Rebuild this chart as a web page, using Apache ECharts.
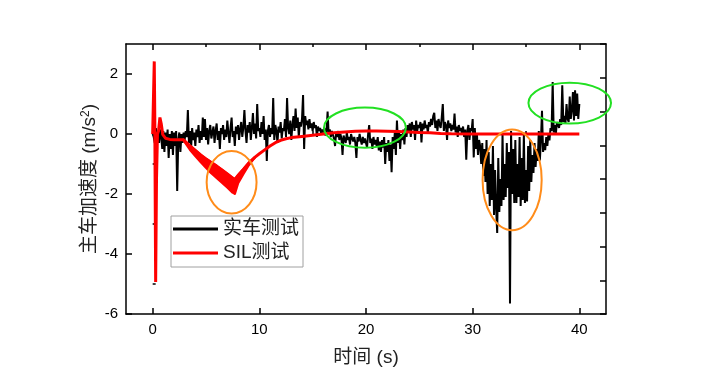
<!DOCTYPE html>
<html>
<head>
<meta charset="utf-8">
<script src="https://cdn.jsdelivr.net/npm/echarts@6/dist/echarts.min.js"></script>
<style>
html, body { margin: 0; background: #fff; }
#main { width: 704px; height: 377px; }
</style>
</head>
<body>
<div id="main"></div>
<script>
// 实车测试: one value every 0.1 s from t = 0 to 40 s
var carStart = 0
var carStep = 0.1
var carValues = [
	0, -0.1, -0.3, 0.2, -0.2, 0.1, -0.3, 0.15, -0.1, -0.5,
	0.1, -0.6, 0.05, -0.4, 0.15, -0.8, 0.0, -0.5, 0.1, -0.7,
	0.05, -0.4, 0.1, -1.9, -0.2, 0.05, -0.6, 0.0, -0.3, 0.05,
	-0.2, 0.1, -0.1, 0.8, -0.3, 0.1, -0.5, 0.2, -0.2, 0.05,
	-0.4, 0.15, -0.1, 0.3, -0.3, 0.1, -0.2, 0.55, -0.1, 0.5,
	-0.2, 0.2, -0.35, 0.1, 0.3, -0.15, 0.05, 0.25, -0.3, 0.1,
	0.35, -0.2, 0.1, -0.5, 0.2, 0.0, 0.3, -0.2, 0.15, -0.1,
	0.45, 0.05, -0.3, 0.2, 0.55, -0.1, 0.1, -0.4, 0.25, 0.0,
	0.3, -0.2, 0.15, 0.4, -0.1, 0.2, 0.8, 0.1, -0.3, 0.3,
	0.05, 0.4, -0.2, 0.2, 0.7, 0.0, 0.35, -0.15, 1.0, 0.1,
	0.2, -0.1, 0.4, 0.0, 0.6, -0.2, 0.15, -0.9, 0.1, 0.3,
	-0.1, 0.2, 0.0, 1.2, -0.2, 0.3, 0.1, -0.3, 0.25, 0.05,
	0.4, -0.15, 0.2, 0.1, 0.5, -0.1, 1.2, 0.2, 0.0, 0.45,
	-0.2, 0.3, 0.6, 0.1, 0.85, 0.2, 0.55, -0.1, 0.4, 0.25,
	0.5, 1.3, -0.5, 0.6, 0.3, 0.45, 0.15, 0.5, 0.2, 0.35,
	0.1, 0.4, 0.2, 0.3, -0.1, 0.25, 0.1, 0.2, 0.0, 0.15,
	0.05, 0.2, -0.05, 0.1, 0.75, 0.0, 0.15, -0.1, 0.1, 0.05,
	-0.15, -0.4, 0.05, -0.1, 0.1, -0.2, 0.0, -0.15, -0.7, -0.05,
	-0.1, -0.3, 0.05, -0.2, -0.1, -0.35, 0.0, -0.15, -0.25, -0.1,
	-0.3, -0.8, -0.1, -0.25, 0.0, -0.2, -0.35, -0.1, -0.3, -0.15,
	-0.2, -0.45, 0.0, 0.3, -0.3, -0.15, -0.5, -0.1, -0.35, -0.2,
	-0.4, -0.1, -0.55, -0.25, -0.6, -0.2, -0.45, -0.1, -1.0, -0.3,
	-0.6, -0.2, -0.9, -0.35, -1.27, -0.1, -0.5, 0.05, -0.7, 0.45,
	-0.3, 0.1, -0.5, 0.0, -0.2, 0.15, -0.35, 0.2, -0.1, 0.3,
	0.1, 0.35, -0.1, 0.4, 0.15, 0.3, -0.2, 0.45, 0.1, 0.3,
	0.2, 0.4, -0.28, 0.35, 0.15, 0.45, 0.2, 0.3, 0.05, 0.4,
	0.25, 0.5, 0.3, 0.6, 0.71, 0.2, 0.45, 0.1, 0.5, 0.3,
	0.2, 0.55, 1.0, 0.1, 0.4, 0.3, -0.2, 0.45, 0.2, 0.35,
	0.1, 0.3, 0.15, 0.68, 0.05, 0.25, -0.1, 0.3, 0.1, 0.2,
	0.0, 0.25, -0.1, 0.15, -0.86, 0.1, 0.3, -0.2, 0.2, 0.1,
	0.5, -0.78, 0.2, -0.5, 0.0, -0.7, -0.2, -0.4, -1.0, -0.3,
	-1.4, -0.5, -1.6, -0.2, -2.0, -0.6, -2.4, -1.0, -2.2, -0.4,
	-2.7, -1.2, -2.5, -3.3, -0.8, -2.6, -1.5, -2.4, 0.0, -2.2,
	-1.0, -2.1, -0.3, -1.8, -0.6, -5.65, 0.1, -2.0, -0.5, -2.3,
	-0.2, -2.3, -1.0, -2.1, -0.1, -2.4, -0.8, -2.2, 0.0, -2.3,
	-1.2, -2.25, -0.4, -1.9, -0.2, -1.6, -0.7, -1.3, -0.3, -1.1,
	-0.5, -0.9, 0.1, -0.88, -0.2, 0.77, -0.6, -0.3, -0.54, -0.1,
	-0.4, 0.0, -0.21, 0.2, 0.1, 1.73, 0.05, 0.3, 0.0, 0.4,
	0.35, 0.2, 0.5, 0.3, 1.62, 0.4, 0.6, 0.35, 1.0, 0.5,
	0.4, 1.25, 0.5, 0.8, 1.4, 0.45, 1.46, 0.6, 1.35, 0.5,
	1.0
]

// SIL测试: [time, value]
var silData = [
	[0, 0], [0.05, 0.8], [0.15, 2.42], [0.2, 0.5], [0.28, -4.93], [0.36, -1.5], [0.45, 0.0],
	[0.55, 0.1], [0.68, 0.55], [0.8, 0.35], [0.95, -0.02], [1.2, -0.14], [1.6, -0.18], [2.0, -0.19], [2.87, -0.19],
	[3.5, -0.4], [4.0, -0.55], [4.5, -0.7], [5.0, -0.83], [5.5, -0.95], [6.0, -1.07], [6.5, -1.2],
	[7.0, -1.33], [7.5, -1.47], [7.7, -1.52], [8.0, -1.38], [8.5, -1.18], [9.0, -0.97],
	[9.6, -0.77], [10.0, -0.66], [10.5, -0.53], [11.0, -0.4], [11.5, -0.29], [12.0, -0.21], [12.5, -0.16],
	[13.0, -0.12], [14.0, -0.08], [15.0, -0.04], [16.0, 0.0], [17.0, 0.04], [18.0, 0.07], [19.0, 0.09],
	[20.0, 0.1], [21.0, 0.1], [22.0, 0.09], [23.0, 0.08], [24.0, 0.07], [25.0, 0.05], [26.0, 0.04],
	[27.0, 0.02], [28.0, 0.01], [30.0, 0.0], [35.0, 0.0], [40.0, 0.0]
]
// 2.9-9.6 s the SIL signal swings fast; these are the two edges of that band
var bandT = [2.87, 3.5, 4.0, 4.5, 5.0, 5.5, 6.0, 6.5, 7.0, 7.5, 7.7, 8.0, 8.5, 9.0, 9.6]
var bandHi = [-0.19, -0.4, -0.55, -0.7, -0.83, -0.95, -1.07, -1.2, -1.33, -1.47, -1.52, -1.38, -1.18, -0.97, -0.77]
var bandLo = [-0.19, -0.52, -0.73, -0.93, -1.12, -1.3, -1.46, -1.62, -1.78, -1.95, -1.99, -1.64, -1.33, -1.04, -0.77]

var seriesNames = ['实车测试', 'SIL测试']
var xTicks = [0, 10, 20, 30, 40]
var xMinor = [5, 15, 25, 35]
var yTicks = [-6, -4, -2, 0, 2]
var yMinor = [-5, -3, -1, 1]

// marked regions: centre (s, m/s2) and half sizes in the same units
var ringX = [7.4, 33.7, 19.9, 39.1]
var ringY = [-1.61, -1.53, 0.21, 1.03]
var ringRX = [2.34, 2.77, 3.84, 3.87]
var ringRY = [1.04, 1.68, 0.67, 0.68]
var ringColor = ['#ff8c1a', '#ff8c1a', '#22e022', '#22e022']

var font = 'Liberation Sans, Arial, Noto Sans CJK SC, sans-serif'

var carData = []
for (let i = 0; i < carValues.length; i++) {
	carData.push([+(carStart + i * carStep).toFixed(2), carValues[i]])
}

var chart = echarts.init(document.getElementById('main'))

var gridBox = { left: 126, right: 98, top: 44, bottom: 63 }
var lineBlack = { color: '#000', width: 1.5 }

function majorX(pos, labels) {
	return {
		gridIndex: 0, type: 'value', position: pos, min: -2.5, max: 42.5,
		axisLine: { show: true, onZero: false, lineStyle: lineBlack },
		axisTick: { show: true, inside: true, length: 6, customValues: xTicks, lineStyle: lineBlack },
		axisLabel: { show: labels, customValues: xTicks, fontSize: 15, color: '#000', margin: 8, fontFamily: font },
		splitLine: { show: false }
	}
}
function minorX(pos) {
	return {
		gridIndex: 1, type: 'value', position: pos, min: -2.5, max: 42.5,
		axisLine: { show: false },
		axisTick: { show: true, inside: true, length: 3, customValues: xMinor, lineStyle: lineBlack },
		axisLabel: { show: false },
		splitLine: { show: false }
	}
}

var xBottom = majorX('bottom', true)
xBottom.name = '时间 (s)'
xBottom.nameLocation = 'middle'
xBottom.nameGap = 34
xBottom.nameMoveOverlap = false
xBottom.nameTextStyle = { fontSize: 19, color: '#222', fontFamily: font }

var option = {
	animation: false,
	grid: [
		Object.assign({}, gridBox),
		Object.assign({}, gridBox)
	],
	legend: {
		left: 171, top: 216, orient: 'vertical',
		data: seriesNames,
		icon: 'rect',
		itemWidth: 45, itemHeight: 3, itemGap: 4,
		padding: [3, 4, 4, 2],
		borderColor: '#a0a0a0', borderWidth: 1,
		textStyle: { fontSize: 19, lineHeight: 20, color: '#222', fontFamily: font }
	},
	xAxis: [xBottom, majorX('top', false), minorX('bottom'), minorX('top')],
	yAxis: [
		{
			gridIndex: 0, type: 'value', position: 'left', min: -6, max: 3,
			name: '主车加速度 (m/s{sup|2})', nameLocation: 'middle', nameGap: 27, nameRotate: 90,
			nameMoveOverlap: false,
			nameTextStyle: {
				fontSize: 19, color: '#222', fontFamily: font,
				rich: { sup: { fontSize: 12, verticalAlign: 'top', color: '#222', fontFamily: font } }
			},
			axisLine: { show: true, onZero: false, lineStyle: lineBlack },
			axisTick: { show: true, inside: true, length: 6, customValues: yTicks, lineStyle: lineBlack },
			axisLabel: { customValues: yTicks, fontSize: 15, color: '#000', margin: 8, fontFamily: font },
			splitLine: { show: false }
		},
		{
			gridIndex: 0, type: 'value', position: 'right', min: 0, max: 8, interval: 1,
			axisLine: { show: true, onZero: false, lineStyle: lineBlack },
			axisTick: { show: true, inside: true, length: 6, lineStyle: lineBlack },
			axisLabel: { show: false },
			splitLine: { show: false }
		},
		{
			gridIndex: 1, type: 'value', position: 'left', min: -6, max: 3,
			axisLine: { show: false },
			axisTick: { show: true, inside: true, length: 3, customValues: yMinor, lineStyle: lineBlack },
			axisLabel: { show: false },
			splitLine: { show: false }
		}
	],
	series: [
		{
			name: seriesNames[0], type: 'line', xAxisIndex: 0, yAxisIndex: 0,
			data: carData, symbol: 'none', sampling: null,
			lineStyle: { color: '#000', width: 2, join: 'bevel' }, itemStyle: { color: '#000' }, z: 2
		},
		{
			name: seriesNames[1], type: 'line', xAxisIndex: 0, yAxisIndex: 0,
			data: silData, symbol: 'none',
			lineStyle: { color: '#ff0000', width: 3, join: 'bevel' }, itemStyle: { color: '#ff0000' }, z: 3
		},
		{
			name: seriesNames[1], type: 'custom', xAxisIndex: 0, yAxisIndex: 0,
			data: [[bandT[0], bandHi[0]]], z: 3,
			itemStyle: { color: '#ff0000' },
			renderItem: function (params, api) {
				var pts = []
				for (let i = 0; i < bandT.length; i++) pts.push(api.coord([bandT[i], bandHi[i]]))
				for (let i = bandT.length - 1; i >= 0; i--) pts.push(api.coord([bandT[i], bandLo[i]]))
				return {
					type: 'polygon',
					shape: { points: pts },
					style: { fill: '#ff0000', stroke: '#ff0000', lineWidth: 2.5, lineJoin: 'round' }
				}
			}
		}
	]
}

chart.setOption(option)

var rings = []
for (let i = 0; i < ringX.length; i++) {
	var c = chart.convertToPixel({ xAxisIndex: 0, yAxisIndex: 0 }, [ringX[i], ringY[i]])
	var e = chart.convertToPixel({ xAxisIndex: 0, yAxisIndex: 0 }, [ringX[i] + ringRX[i], ringY[i] + ringRY[i]])
	rings.push({
		type: 'ellipse',
		shape: { cx: c[0], cy: c[1], rx: e[0] - c[0], ry: c[1] - e[1] },
		style: { fill: 'none', stroke: ringColor[i], lineWidth: 2 },
		z: 100
	})
}
chart.setOption({ graphic: rings })
</script>
</body>
</html>
